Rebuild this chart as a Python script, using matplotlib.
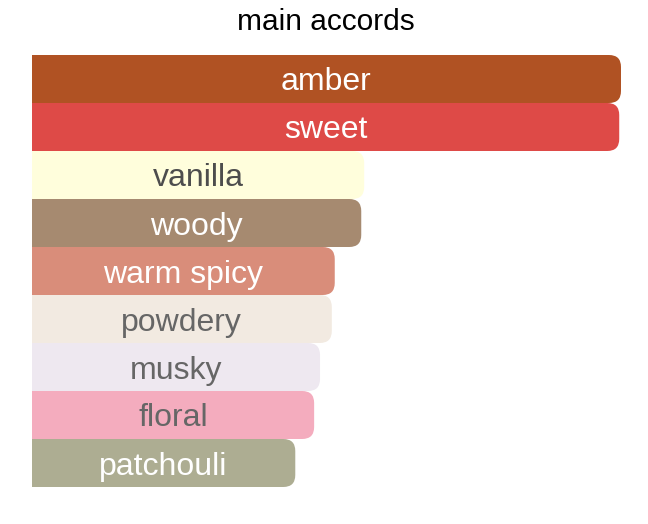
import matplotlib
matplotlib.use("Agg")
import matplotlib.pyplot as plt
from matplotlib.patches import FancyBboxPatch, Rectangle

accords = ['amber', 'sweet', 'vanilla', 'woody', 'warm spicy',
           'powdery', 'musky', 'floral', 'patchouli']
strength = [100, 99.7, 56.4, 55.9, 51.4, 50.9, 48.9, 47.9, 44.7]
colors = ['#B05223', '#DE4A47', '#FFFEDC', '#A68A70', '#D98D7A',
          '#F2EAE1', '#EEE8F0', '#F4ACBE', '#ADAD92']
text_colors = ['white', 'white', '#4d4d4d', 'white', 'white',
               '#666666', '#666666', '#666666', 'white']

W, H = 648, 524
fig = plt.figure(figsize=(W / 100, H / 100), dpi=100)
plt.rcParams['font.family'] = ['Liberation Sans', 'DejaVu Sans']

# axes in pixel terms: x 32..621, y 55..487
ax = fig.add_axes([32 / W, 1 - 487 / H, 589 / W, 432 / H])
ax.set_xlim(0, 100)
ax.set_ylim(len(accords), 0)
ax.axis('off')

px_x = 100 / 589
px_y = len(accords) / 432
aspect = px_y / px_x
r = 12 * px_x

for i, (name, val) in enumerate(zip(accords, strength)):
    box = FancyBboxPatch((0, i), val, 1,
                         boxstyle=f"round,pad=0,rounding_size={r}",
                         mutation_aspect=aspect,
                         facecolor=colors[i], edgecolor='none', zorder=2)
    ax.add_patch(box)
    ax.add_patch(Rectangle((0, i), val / 2, 1, facecolor=colors[i],
                           edgecolor='none', zorder=2))
    ax.text(val / 2, i + 0.5, name, ha='center', va='center_baseline',
            fontsize=23, color=text_colors[i], zorder=3)

fig.text(326 / W, 1 - 22 / H, 'main accords', ha='center', va='center',
         fontsize=21.5, color='black')

fig.savefig('out.png', dpi=100, facecolor='white')
